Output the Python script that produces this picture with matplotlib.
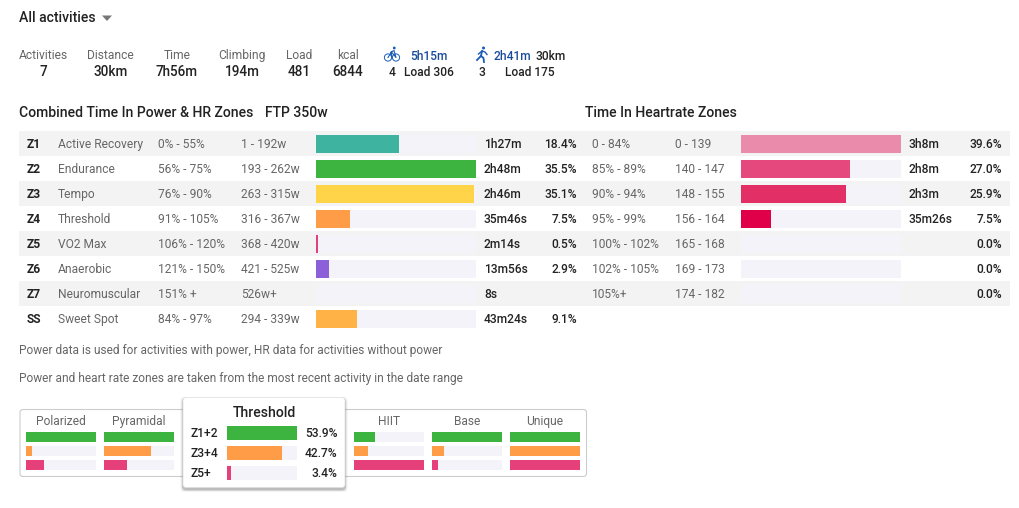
#!/usr/bin/env python3
"""Zone summary panel: time in power and heart rate zones"""

import matplotlib
matplotlib.use('Agg')
import matplotlib.pyplot as plt
from matplotlib.patches import Rectangle, FancyBboxPatch, Circle, Polygon

plt.rcParams['font.family'] = ['Roboto', 'DejaVu Sans']

DARK = '#222222'; GREY = '#666666'; BLUE = '#1A4C9C'; ICON = '#1B5BB5'
TRACK = '#F3F3F9'; STRIPE = '#F3F3F3'; BORDER = '#CCCCCC'

# top stats
stat_labels = ['Activities', 'Distance', 'Time', 'Climbing', 'Load', 'kcal']
stat_values = ['7', '30km', '7h56m', '194m', '481', '6844']

# power zones
zones = ['Z1', 'Z2', 'Z3', 'Z4', 'Z5', 'Z6', 'Z7', 'SS']
zone_names = ['Active Recovery', 'Endurance', 'Tempo', 'Threshold', 'VO2 Max',
              'Anaerobic', 'Neuromuscular', 'Sweet Spot']
power_ftp = ['0% - 55%', '56% - 75%', '76% - 90%', '91% - 105%', '106% - 120%',
             '121% - 150%', '151% +', '84% - 97%']
power_watts = ['1 - 192w', '193 - 262w', '263 - 315w', '316 - 367w', '368 - 420w',
               '421 - 525w', '526w+', '294 - 339w']
power_times = ['1h27m', '2h48m', '2h46m', '35m46s', '2m14s', '13m56s', '8s', '43m24s']
power_pcts = [18.4, 35.5, 35.1, 7.5, 0.5, 2.9, 0.0, 9.1]
power_pct_labels = ['18.4%', '35.5%', '35.1%', '7.5%', '0.5%', '2.9%', '', '9.1%']
power_colors = ['#3EB39F', '#3DB340', '#FFD449', '#FF9C47', '#E5407A', '#8B60D9',
                '#8B60D9', '#FFB347']

# heart rate zones
hr_ranges = ['0 - 84%', '85% - 89%', '90% - 94%', '95% - 99%', '100% - 102%',
             '102% - 105%', '105%+']
hr_bpm = ['0 - 139', '140 - 147', '148 - 155', '156 - 164', '165 - 168', '169 - 173',
          '174 - 182']
hr_times = ['3h8m', '2h8m', '2h3m', '35m26s', '', '', '']
hr_pcts = [39.6, 27.0, 25.9, 7.5, 0.0, 0.0, 0.0]
hr_colors = ['#EA8BAB', '#E5487C', '#E22F66', '#DF0049', '#DF0049', '#DF0049', '#DF0049']

# training distribution, % of the largest band
dist_names = ['Polarized', 'Pyramidal', 'HIIT', 'Base', 'Unique']
dist_low = [100, 100, 30, 100, 100]
dist_mid = [9, 67, 20, 17, 100]
dist_high = [26, 33, 100, 9, 100]
dist_colors = ['#3DB340', '#FF9C47', '#E5407A']

tip_labels = ['Z1+2', 'Z3+4', 'Z5+']
tip_pcts = [53.9, 42.7, 3.4]

fig = plt.figure(figsize=(10.2, 5.08), dpi=100)
ax = fig.add_axes([0, 0, 1, 1])
ax.set_xlim(0, 1020); ax.set_ylim(508, 0); ax.axis('off')


def txt(x, y, s, size=12, color=GREY, weight='normal', ha='left', z=3):
    ax.text(x, y, s, fontsize=size * 0.72, color=color, fontweight=weight, ha=ha,
            va='baseline', zorder=z)


def bar(x, y, w, h, frac, color, z=2):
    ax.add_patch(Rectangle((x, y), w, h, fc=TRACK, ec='none', zorder=z))
    ax.add_patch(Rectangle((x, y), w * frac, h, fc=color, ec='none', zorder=z + 0.1))


# header
txt(19, 22, 'All activities', 14, DARK, 'medium')
ax.add_patch(Polygon([(102, 15.5), (112, 15.5), (107, 21)], fc='#777777', ec='none'))

for cx, lab, val in zip([43.5, 110.5, 177, 242, 299, 348], stat_labels, stat_values):
    txt(cx, 59, lab, 12, GREY, ha='center')
    txt(cx, 76, val, 13.5, DARK, 'medium', ha='center')

# bike icon
for cx in (388, 396):
    ax.add_patch(Circle((cx, 57.5), 3.6, fc='none', ec=ICON, lw=0.7))
ax.plot([388, 391.5, 396, 394, 391, 392], [57.5, 52, 57.5, 50.5, 52, 57.5], color=ICON, lw=0.8)
ax.add_patch(Circle((394.3, 48), 1.4, fc=ICON, ec='none'))
txt(410.5, 60, '5h15m', 12, BLUE, 'medium')
txt(392, 76, '4', 12, DARK, 'medium', ha='center')
txt(404, 76, 'Load 306', 12, DARK, 'medium')

# runner icon
ax.add_patch(Circle((483.5, 48), 1.5, fc=ICON, ec='none'))
ax.plot([482, 481, 477], [51, 56, 60], color=ICON, lw=1.3)
ax.plot([481, 483.5, 484], [56, 58, 62], color=ICON, lw=1.3)
ax.plot([478.5, 482, 485, 487], [54, 51, 52, 54.5], color=ICON, lw=1)
txt(494, 60, '2h41m', 12, BLUE, 'medium')
txt(536, 60, '30km', 12, DARK, 'medium')
txt(482, 76, '3', 12, DARK, 'medium', ha='center')
txt(505, 76, 'Load 175', 12, DARK, 'medium')

# section titles
txt(19, 117, 'Combined Time In Power & HR Zones', 14, DARK, 'medium')
txt(265, 117, 'FTP 350w', 14, DARK, 'medium')
txt(585, 117, 'Time In Heartrate Zones', 14, DARK, 'medium')

# zone table
ROW_H = 25
for i in range(len(zones)):
    top = 131 + i * ROW_H
    base = top + 17
    if i % 2 == 0 and i < 7:
        ax.add_patch(Rectangle((19, top), 991, ROW_H, fc=STRIPE, ec='none', zorder=1))
    txt(27, base, zones[i], 12, DARK, 'bold')
    txt(57.7, base, zone_names[i])
    txt(158, base, power_ftp[i])
    txt(241, base, power_watts[i])
    bar(316, top + 4, 160, 18, power_pcts[i] / max(power_pcts), power_colors[i])
    txt(484, base, power_times[i], 12, DARK, 'medium')
    txt(577, base, power_pct_labels[i], 12, DARK, 'medium', ha='right')

for i in range(len(hr_ranges)):
    top = 131 + i * ROW_H
    base = top + 17
    txt(592, base, hr_ranges[i])
    txt(675, base, hr_bpm[i])
    bar(741, top + 4, 160, 18, hr_pcts[i] / max(hr_pcts), hr_colors[i])
    txt(909, base, hr_times[i], 12, DARK, 'medium')
    txt(1002.5, base, f'{hr_pcts[i]:.1f}%', 12, DARK, 'medium', ha='right')

txt(19, 354, 'Power data is used for activities with power, HR data for activities without power', 11.94)
txt(19, 382, 'Power and heart rate zones are taken from the most recent activity in the date range', 11.92)

# distribution box
ax.add_patch(FancyBboxPatch((20, 409.5), 566.5, 67, boxstyle='round,pad=0,rounding_size=3',
                            fc='white', ec=BORDER, lw=0.8, zorder=1))
for x, name, lo, mid, hi in zip([26, 104, 354, 432, 510], dist_names, dist_low, dist_mid, dist_high):
    txt(x + 35, 425, name, 12, GREY, ha='center')
    for y, v, c in zip([432, 446, 460], [lo, mid, hi], dist_colors):
        bar(x, y, 70, 10, v / 100, c)

# tooltip with soft shadow
for pad, alpha in [(2.5, 0.05), (1.5, 0.09), (0.7, 0.14)]:
    ax.add_patch(FancyBboxPatch((183 - pad, 397.5 - pad + 2), 162 + 2 * pad, 90 + 2 * pad,
                                boxstyle='round,pad=0,rounding_size=4', fc='black',
                                ec='none', alpha=alpha, zorder=4))
ax.add_patch(FancyBboxPatch((183, 397.5), 162, 90, boxstyle='round,pad=0,rounding_size=3',
                            fc='white', ec='#DDDDDD', lw=0.5, zorder=5))
txt(264, 417, 'Threshold', 14, DARK, 'medium', ha='center', z=7)
for i, (lab, pct, c) in enumerate(zip(tip_labels, tip_pcts, dist_colors)):
    top = 426 + i * 20
    txt(191, top + 11, lab, 12, DARK, 'medium', z=7)
    bar(227, top, 70, 14, pct / max(tip_pcts), c, z=6)
    txt(337.5, top + 11, f'{pct:.1f}%', 12, DARK, 'medium', ha='right', z=7)

fig.savefig('out.png', dpi=100, facecolor='white')
